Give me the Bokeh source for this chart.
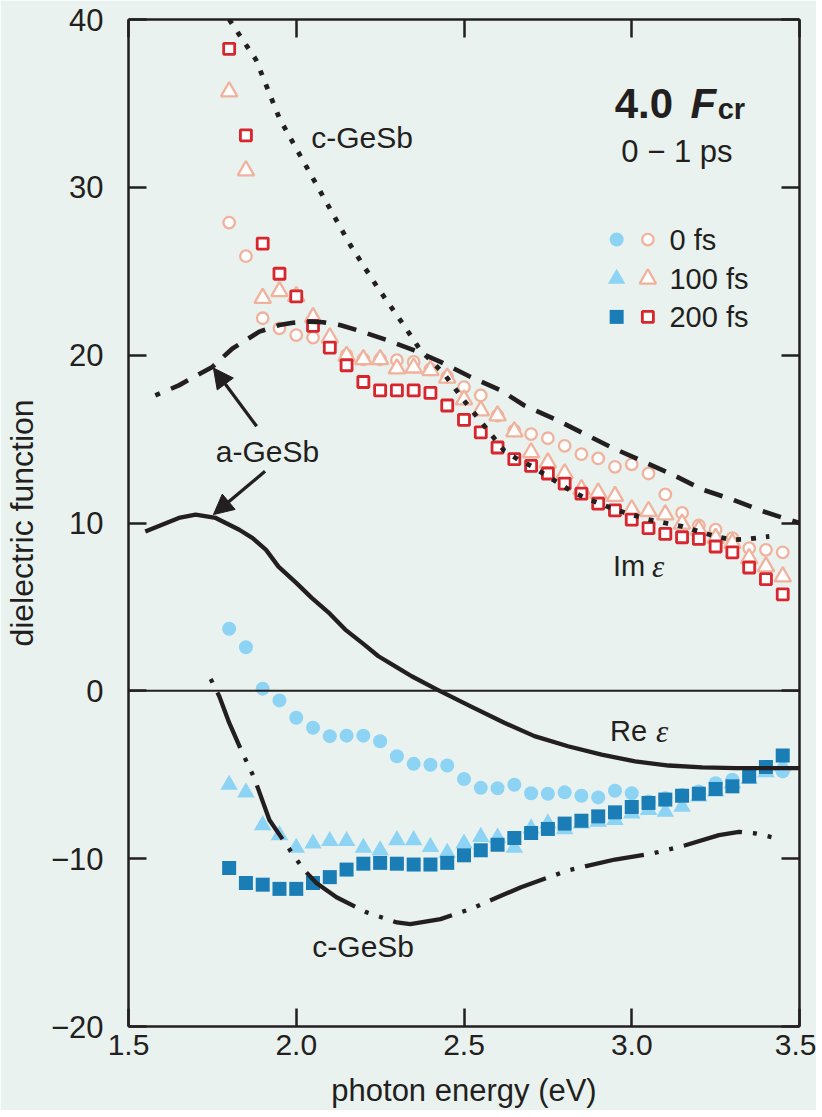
from bokeh.plotting import figure
from bokeh.models import LinearAxis, FixedTicker, Span, Arrow, NormalHead, Range1d
from bokeh.core.properties import value
from bokeh.embed import file_html
from bokeh.resources import INLINE

# ---------------- data ----------------
energy = [1.80, 1.85, 1.90, 1.95, 2.00, 2.05, 2.10, 2.15, 2.20, 2.25, 2.30, 2.35,
          2.40, 2.45, 2.50, 2.55, 2.60, 2.65, 2.70, 2.75, 2.80, 2.85, 2.90, 2.95,
          3.00, 3.05, 3.10, 3.15, 3.20, 3.25, 3.30, 3.35, 3.40, 3.45]

im_0fs = [27.9, 25.9, 22.2, 21.6, 21.2, 21.05, 20.6, 20.0, 19.75, 19.75, 19.7, 19.6,
          19.15, 18.7, 18.1, 17.6, 16.4, 15.5, 15.3, 15.05, 14.6, 14.1, 13.85, 13.35,
          13.5, 12.95, 11.7, 10.6, 9.85, 9.6, 9.1, 8.5, 8.4, 8.25]
im_100fs = [35.7, 31.0, 23.4, 23.8, 23.5, 22.25, 21.05, 19.95, 19.75, 19.75, 19.2, 19.25,
            19.1, 18.65, 17.35, 16.7, 16.4, 15.45, 14.2, 13.6, 12.95, 12.0, 11.8, 11.6,
            10.8, 10.7, 10.5, 9.95, 9.6, 9.1, 8.8, 7.9, 7.4, 6.8]
im_200fs = [38.25, 33.1, 26.65, 24.85, 23.5, 21.75, 20.45, 19.4, 18.4, 17.9, 17.9, 17.9,
            17.75, 17.0, 16.15, 15.4, 14.5, 13.8, 13.4, 12.95, 12.35, 11.75, 11.15, 10.75,
            10.2, 9.7, 9.35, 9.15, 9.05, 8.6, 8.25, 7.35, 6.65, 5.75]

re_0fs = [3.7, 2.6, 0.13, -0.57, -1.6, -2.2, -2.7, -2.67, -2.67, -3.0, -3.9, -4.35,
          -4.4, -4.45, -5.25, -5.78, -5.8, -5.6, -6.1, -6.13, -6.05, -6.25, -6.35, -5.95,
          -6.1, -6.6, -6.4, -6.2, -6.0, -5.5, -5.3, -5.1, -4.7, -4.8]
re_100fs = [-5.6, -6.05, -8.0, -8.6, -9.35, -9.1, -8.95, -8.95, -9.35, -9.5, -8.9, -8.9,
            -9.3, -9.65, -9.1, -8.7, -8.75, -9.35, -8.2, -7.9, -8.25, -7.9, -7.8, -7.7,
            -7.3, -7.1, -7.2, -6.9, -6.3, -6.0, -5.5, -5.25, -4.85, -4.5]
re_200fs = [-10.55, -11.45, -11.55, -11.8, -11.8, -11.45, -11.1, -10.65, -10.3, -10.25, -10.3, -10.35,
            -10.35, -10.25, -9.8, -9.5, -9.17, -8.77, -8.47, -8.23, -7.91, -7.74, -7.48, -7.24,
            -6.92, -6.68, -6.48, -6.25, -6.13, -5.85, -5.69, -5.1, -4.54, -3.86]

# reference spectra (curves)
im_a_E = [1.58, 1.65, 1.70, 1.75, 1.81, 1.89, 1.95, 1.99, 2.04, 2.08, 2.13, 2.18, 2.27, 2.35,
          2.43, 2.52, 2.61, 2.68, 2.77, 2.85, 2.94, 3.03, 3.12, 3.21, 3.30, 3.39, 3.50]
im_a_val = [17.6, 18.2, 18.75, 19.3, 20.4, 21.4, 21.8, 21.93, 22.0, 21.96, 21.8, 21.5, 20.9, 20.3,
            19.6, 18.7, 17.9, 17.0, 16.2, 15.4, 14.5, 13.7, 12.9, 12.0, 11.4, 10.7, 10.0]

im_c_E = [1.80, 1.88, 1.95, 2.02, 2.09, 2.16, 2.24, 2.32, 2.37, 2.44, 2.50, 2.56, 2.62, 2.66,
          2.70, 2.74, 2.78, 2.82, 2.86, 2.90, 2.95, 3.00, 3.05, 3.10, 3.15, 3.20, 3.25, 3.30,
          3.35, 3.41]
im_c_val = [40.0, 37.6, 34.1, 31.6, 29.1, 26.6, 24.1, 21.8, 20.3, 18.9, 17.3, 15.8, 14.3, 13.8,
            13.4, 12.9, 12.4, 11.9, 11.5, 11.2, 10.8, 10.5, 10.2, 10.0, 9.8, 9.5, 9.2, 9.0,
            9.05, 9.2]

re_a_E = [1.55, 1.60, 1.65, 1.70, 1.76, 1.83, 1.87, 1.91, 1.947, 2.00, 2.046, 2.10, 2.146,
          2.20, 2.245, 2.30, 2.344, 2.42, 2.52, 2.62, 2.71, 2.81, 2.91, 3.01, 3.11, 3.21,
          3.31, 3.50]
re_a_val = [9.5, 9.9, 10.3, 10.5, 10.3, 9.6, 9.1, 8.4, 7.4, 6.43, 5.54, 4.6, 3.65,
            2.8, 2.06, 1.4, 0.87, 0.07, -0.93, -1.9, -2.7, -3.3, -3.8, -4.2, -4.45, -4.56,
            -4.6, -4.6]

re_c_E = [1.745, 1.77, 1.80, 1.835, 1.875, 1.92, 1.975, 2.02, 2.06, 2.12, 2.21, 2.30, 2.34,
          2.43, 2.52, 2.60, 2.67, 2.81, 2.95, 3.06, 3.16, 3.26, 3.32, 3.37, 3.435]
re_c_val = [0.7, -0.3, -1.9, -3.5, -5.2, -7.7, -9.3, -10.6, -11.45, -12.3, -13.2, -13.8, -13.9,
            -13.6, -13.0, -12.3, -11.7, -10.7, -10.05, -9.7, -9.2, -8.6, -8.4, -8.5, -8.8]

x_ticks = [1.5, 2.0, 2.5, 3.0, 3.5]
x_tick_labels = ["1.5", "2.0", "2.5", "3.0", "3.5"]
y_ticks = [-20, -10, 0, 10, 20, 30, 40]
y_tick_labels = ["\u221220", "\u221210", "0", "10", "20", "30", "40"]

legend_labels = ["0 fs", "100 fs", "200 fs"]

# ---------------- style ----------------
BG = "#e9f2ee"
INK = "#231f20"
LIGHT_BLUE = "#8dd3f4"
DARK_BLUE = "#1a7db6"
SALMON = "#f0b29c"
RED = "#d8262e"
FONT = "Liberation Sans"

p = figure(x_range=Range1d(1.5, 3.5), y_range=Range1d(-20, 40),
           frame_width=671, frame_height=1007,
           min_border_left=118, min_border_right=17, min_border_top=19, min_border_bottom=10,
           background_fill_color=BG, border_fill_color=BG, outline_line_color=None,
           x_axis_location=None, y_axis_location=None,
           output_backend="svg", toolbar_location=None)
p.grid.visible = False


def style_axis(ax, labels=True):
    ax.axis_line_color = INK
    ax.axis_line_width = 2.5
    ax.major_tick_line_color = INK
    ax.major_tick_line_width = 2.5
    ax.major_tick_in = 18
    ax.major_tick_out = 0
    ax.minor_tick_in = 0
    ax.minor_tick_out = 0
    ax.major_label_text_font = FONT
    ax.major_label_text_color = INK
    ax.axis_label_text_font = FONT
    ax.axis_label_text_font_style = "normal"
    ax.axis_label_text_color = INK
    if not labels:
        ax.major_label_text_font_size = "0px"
        ax.major_label_standoff = 0


xb = LinearAxis(ticker=FixedTicker(ticks=x_ticks), axis_label="photon energy (eV)",
                major_label_overrides={t: s for t, s in zip(x_ticks, x_tick_labels)})
style_axis(xb)
xb.major_label_text_font_size = "30px"
xb.major_label_standoff = 8
xb.axis_label_text_font_size = "31px"
xb.axis_label_standoff = 15
p.add_layout(xb, "below")

yl = LinearAxis(ticker=FixedTicker(ticks=y_ticks), axis_label="dielectric function",
                major_label_overrides={t: s for t, s in zip(y_ticks, y_tick_labels)})
style_axis(yl)
yl.major_label_text_font_size = "31px"
yl.major_label_standoff = 25
yl.axis_label_text_font_size = "32px"
yl.axis_label_standoff = 8
p.add_layout(yl, "left")

xt = LinearAxis(ticker=FixedTicker(ticks=x_ticks),
                major_label_overrides={t: "" for t in x_ticks})
style_axis(xt, labels=False)
p.add_layout(xt, "above")

yr = LinearAxis(ticker=FixedTicker(ticks=y_ticks),
                major_label_overrides={t: "" for t in y_ticks})
style_axis(yr, labels=False)
p.add_layout(yr, "right")

p.add_layout(Span(location=0, dimension="width", line_color=INK, line_width=2))

# ---------------- markers ----------------
# imaginary part (open symbols)
p.scatter(energy, im_0fs, marker="circle", size=11.5, fill_color="white",
          line_color=SALMON, line_width=2.3)
p.scatter(energy, im_100fs, marker="triangle", size=16.5, fill_color="white",
          line_color=SALMON, line_width=2.3)
p.scatter(energy, im_200fs, marker="square", size=11, fill_color="white",
          line_color=RED, line_width=2.8)
# real part (filled symbols)
p.scatter(energy, re_0fs, marker="circle", size=14, fill_color=LIGHT_BLUE, line_color=None)
p.scatter(energy, re_100fs, marker="triangle", size=17.5, fill_color=LIGHT_BLUE, line_color=None)
p.scatter(energy, re_200fs, marker="square", size=14, fill_color=DARK_BLUE, line_color=None)

# ---------------- curves ----------------
LW = 4.3
p.line(im_a_E, im_a_val, line_color=INK, line_width=4.6, line_dash="19 12", line_dash_offset=14)
p.line(im_c_E, im_c_val, line_color=INK, line_width=4.8, line_dash="5 10")
p.line(re_a_E, re_a_val, line_color=INK, line_width=LW, line_join="round")
p.line(re_c_E, re_c_val, line_color=INK, line_width=LW, line_dash="60 11 4 11 4 11",
       line_dash_offset=86)

# ---------------- arrows ----------------
arrow_start_E = [1.882, 1.907]
arrow_start_v = [15.76, 13.08]
arrow_end_E = [1.753, 1.753]
arrow_end_v = [19.24, 10.5]
for xs, ys, xe, ye in zip(arrow_start_E, arrow_start_v, arrow_end_E, arrow_end_v):
    p.add_layout(Arrow(x_start=xs, y_start=ys, x_end=xe, y_end=ye, line_color=INK, line_width=3.3,
                       end=NormalHead(size=20, fill_color=INK, line_color=INK, line_width=1)))

# ---------------- annotations (text) ----------------
def txt(x, y, s, size, font=FONT, style="normal", align="left", baseline="middle"):
    p.text(x=[x], y=[y], text=[s], text_font=value(font), text_font_size=value(size),
           text_font_style=style, text_align=align, text_baseline=baseline, text_color=INK)

label_E = [2.0446, 1.760, 2.048]
label_v = [32.95, 14.27, -15.24]
label_txt = ["c-GeSb", "a-GeSb", "c-GeSb"]
for e, v, s in zip(label_E, label_v, label_txt):
    txt(e, v, s, "30px")

txt(2.944, 7.42, "Im", "29px")
txt(3.060, 7.42, "\u03b5", "31px", font="Liberation Serif", style="italic")
txt(2.935, -2.41, "Re", "29px")
txt(3.072, -2.41, "\u03b5", "31px", font="Liberation Serif", style="italic")

txt(2.949, 35.0, "4.0", "42px", style="bold", baseline="alphabetic")
txt(3.175, 35.0, "F", "42px", style="bold italic", baseline="alphabetic")
txt(3.256, 34.64, "cr", "29px", style="bold", baseline="alphabetic")
txt(2.969, 32.13, "0 \u2212 1 ps", "31px")

# legend
leg_fill_E = 2.955
leg_open_E = 3.048
leg_text_E = 3.1125
leg_v = [26.89, 24.55, 22.28]
markers = ["circle", "triangle", "square"]
fill_cols = [LIGHT_BLUE, LIGHT_BLUE, DARK_BLUE]
open_cols = [SALMON, SALMON, RED]
fill_sizes = [14, 17.5, 14]
open_sizes = [11.5, 16.5, 11]
open_lw = [2.3, 2.3, 2.8]
for i in range(3):
    p.scatter([leg_fill_E], [leg_v[i]], marker=markers[i], size=fill_sizes[i],
              fill_color=fill_cols[i], line_color=None)
    p.scatter([leg_open_E], [leg_v[i]], marker=markers[i], size=open_sizes[i],
              fill_color="white", line_color=open_cols[i], line_width=open_lw[i])
    txt(leg_text_E, leg_v[i], legend_labels[i], "29px")

open("out.html", "w").write(file_html(p, INLINE))
